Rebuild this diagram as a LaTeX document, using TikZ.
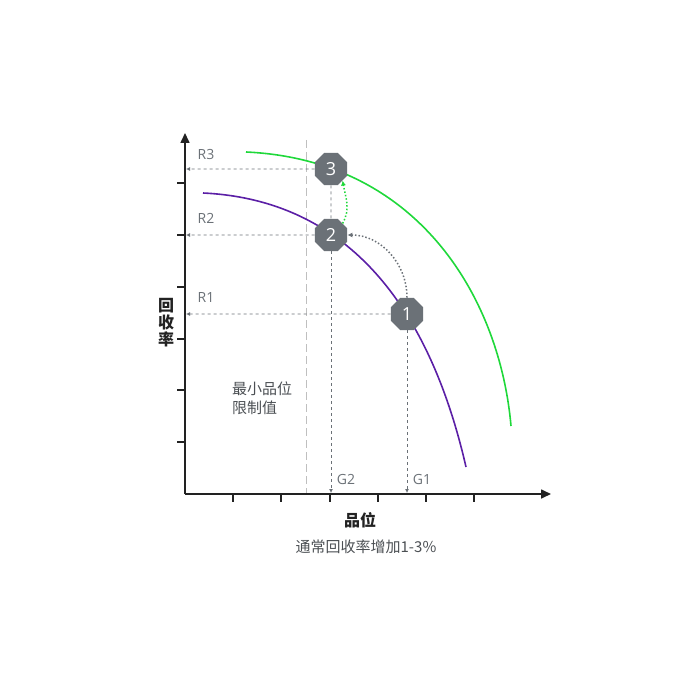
\documentclass[tikz,border=0pt]{standalone}
\usepackage{fontspec}
\setmainfont{Open Sans}
\newfontfamily\cjk{Noto Sans CJK SC}
\usetikzlibrary{shapes.geometric,arrows.meta}
\definecolor{ax}{HTML}{222222}
\definecolor{dg}{HTML}{6B7177}
\definecolor{pur}{HTML}{5B1FA6}
\definecolor{grn}{HTML}{1FD83A}
\tikzset{
 pt/.style={regular polygon,regular polygon sides=8,fill=dg,text=white,inner sep=0pt,minimum size=35pt,font=\fontsize{18}{18}\selectfont},
 guide/.style={dg,dashed,line width=0.8pt,-{Latex[length=4pt,width=4pt]}},
 lab/.style={text=dg,font=\fontsize{14}{14}\selectfont},
 tick/.style={ax,line width=1.2pt}
}
\begin{document}
\begin{tikzpicture}[x=1pt,y=-1pt]
\useasboundingbox (0,0) rectangle (700,700);
\draw[gray!50,line width=1pt,dash pattern=on 8pt off 4pt] (306,140) -- (306,494);
\draw[pur,line width=1.6pt] (203,193) .. controls (350,200) and (430,310) .. (466,467);
\draw[grn,line width=1.6pt] (246,152) .. controls (420,160) and (500,300) .. (511,426);
\draw[ax,line width=1.6pt,-{Triangle[length=10pt,width=9pt]}] (185,494) -- (185,133);
\draw[ax,line width=1.6pt,-{Triangle[length=10pt,width=9pt]}] (185,494) -- (551,494);
\foreach \x in {233,281,330,378,426,474} \draw[tick] (\x,494) -- (\x,502);
\foreach \y in {183,235,287,339,390,442} \draw[tick] (185,\y) -- (177,\y);
\node[pt] (n3) at (331,169) {3};
\node[pt] (n2) at (331,235) {2};
\node[pt] (n1) at (407,314) {1};
\coordinate (y3) at (186,169); \coordinate (y2) at (186,235); \coordinate (y1) at (186,314);
\coordinate (x2) at (331,493); \coordinate (x1) at (407,493);
\draw[guide] (n3) -- (y3);
\draw[guide] (n2) -- (y2);
\draw[guide] (n1) -- (y1);
\draw[guide] (n2) -- (x2);
\draw[guide] (n1) -- (x1);
\draw[dg,dashed,line width=0.8pt] (n3) -- (n2);
\node[lab] (r3) at (206,155) {R3};
\node[lab] (r2) at (206,218) {R2};
\node[lab] (r1) at (206,298) {R1};
\node[lab] (g2) at (346,479) {G2};
\node[lab] (g1) at (422,479) {G1};
\draw[dg,line width=1.5pt,dotted,-{Latex[length=5pt,width=5pt]}] (n1.north) to[out=90,in=0,looseness=1] (n2.east);
\draw[grn,line width=1.5pt,dotted,-{Latex[length=5pt,width=5pt]}] (n2.north east) to[out=60,in=-80] (n3.south east);
\node[text=dg!70!black,align=left,font=\cjk\fontsize{15}{19}\selectfont] (lim) at (262,398) {最小品位\\限制值};
\node[font=\cjk\bfseries\fontsize{16}{17}\selectfont,align=center,text=ax] (yl) at (166,323) {回\\收\\率};
\node[font=\cjk\bfseries\fontsize{16}{16}\selectfont,text=ax] (xl) at (360,520) {品位};
\node[font=\cjk\fontsize{15}{15}\selectfont,text=dg!70!black] (cap) at (366,547) {通常回收率增加1-3\%};
\end{tikzpicture}
\end{document}
